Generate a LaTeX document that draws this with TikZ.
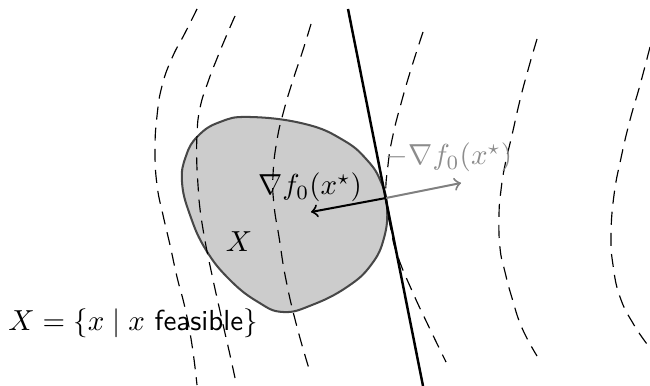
\documentclass[tikz,border=0pt]{standalone}
\usepackage{amsmath}
\begin{document}
\begin{tikzpicture}[x=0.345pt,y=-0.345pt,
  level/.style={dash pattern=on 4.5pt off 2.8pt, line width=0.4pt},
  feasset/.style={fill=black!20, draw=black!72, line width=0.7pt},
  hyper/.style={line width=0.85pt},
  grad/.style={->, line width=0.7pt},
  lab/.style={inner sep=0pt, anchor=base}]
\useasboundingbox (0,0) rectangle (650,386);
\clip (0,0) rectangle (650,386);
% feasible set
\draw[feasset] plot[smooth cycle, tension=0.75] coordinates {
 (250,117) (305,124) (343,140) (367,160) (381,182) (387,207) (384,238)
 (371,265) (347,287) (312,305) (283,312) (258,302) (230,280) (206,250)
 (190,215) (182,182) (186,156) (198,136) (220,122)};
% level curves
\draw[level] plot[smooth, tension=0.8] coordinates {(197,9) (185,33) (172,58) (162,86) (157,116) (155,150) (157,185) (163,215) (170,245) (177,277) (185,308) (192,345) (197,385)};
\draw[level] plot[smooth, tension=0.8] coordinates {(235,16) (228,32) (218,56) (208,82) (200,108) (197,135) (197,170) (199,200) (204,235) (212,275) (222,320) (230,355) (235,378)};
\draw[level] plot[smooth, tension=0.8] coordinates {(311,24) (303,50) (293,80) (284,110) (277,140) (273,175) (274,205) (279,237) (286,280) (297,327) (310,372)};
\draw[level] plot[smooth, tension=0.8] coordinates {(423,32) (412,66) (402,100) (393,135) (388,165) (386,197) (391,230) (398,257) (413,293) (428,325) (446,362)};
\draw[level] plot[smooth, tension=0.8] coordinates {(537,39) (528,70) (520,100) (512,135) (505,165) (501,190) (499,215) (500,248) (505,272) (512,298) (522,328) (537,356)};
\draw[level] plot[smooth, tension=0.8] coordinates {(650,47) (640,85) (630,120) (621,158) (614,195) (611,235) (613,265) (620,297) (634,325) (650,348)};
% supporting hyperplane
\coordinate (xs) at (386,198);
\coordinate (htop) at (348,9);
\coordinate (hbot) at (423,386);
\draw[hyper] (htop) -- (hbot);
% gradients
\coordinate (gtip) at (311,212);
\coordinate (ngtip) at (461,183);
\draw[grad, black!50] (xs) -- (ngtip);
\draw[grad] (xs) -- (gtip);
% labels
\node[lab] (glab) at (310,195) {$\nabla f_0(x^\star)$};
\node[lab, text=black!45] (nglab) at (449,165) {$-\nabla f_0(x^\star)$};
\node[lab] (xlab) at (239,252) {$X$};
\node[lab] (setlab) at (133,330) {$X=\{x\mid x\ \textsf{feasible}\}$};
\end{tikzpicture}
\end{document}
